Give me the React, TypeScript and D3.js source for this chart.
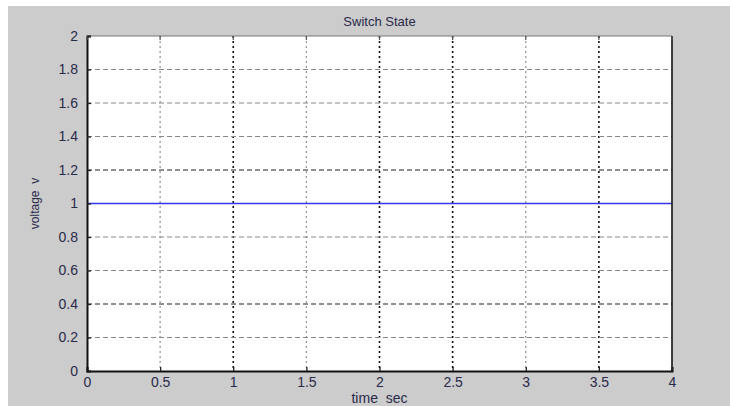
import { useEffect, useRef } from "react";
import * as d3 from "d3";

const W = 730;
const H = 406;
const FRAME = { left: 8, top: 6 };
const PLOT = { left: 87, top: 36, right: 672, bottom: 371 };

const xTicks = [0, 0.5, 1, 1.5, 2, 2.5, 3, 3.5, 4];
const yTicks = [0, 0.2, 0.4, 0.6, 0.8, 1, 1.2, 1.4, 1.6, 1.8, 2];
// darker grid lines as they appear in the scan
const darkX = [1, 2, 2.5, 3.5];
const darkY = [1.2, 0.4];

const timeSec = [0, 4];
const voltage = [1, 1];

const FONT = "'Liberation Sans', Arial, sans-serif";
const TEXT_COLOR = "#2a2a4a";

export default function App() {
  const ref = useRef<SVGSVGElement>(null);

  useEffect(() => {
    const svg = d3.select(ref.current);
    svg.selectAll("*").remove();

    const x = d3.scaleLinear().domain([0, 4]).range([PLOT.left, PLOT.right]);
    const y = d3.scaleLinear().domain([0, 2]).range([PLOT.bottom, PLOT.top]);

    // figure background
    svg
      .append("rect")
      .attr("x", FRAME.left)
      .attr("y", FRAME.top)
      .attr("width", W - FRAME.left)
      .attr("height", H - FRAME.top)
      .attr("fill", "#cccccc");

    // axes area
    svg
      .append("rect")
      .attr("x", PLOT.left)
      .attr("y", PLOT.top)
      .attr("width", PLOT.right - PLOT.left)
      .attr("height", PLOT.bottom - PLOT.top)
      .attr("fill", "#ffffff");

    // grid
    const grid = svg.append("g");
    grid
      .selectAll("line.gx")
      .data(xTicks.slice(1, -1))
      .join("line")
      .attr("x1", (d) => x(d))
      .attr("x2", (d) => x(d))
      .attr("y1", PLOT.top)
      .attr("y2", PLOT.bottom)
      .attr("stroke", (d) => (darkX.includes(d) ? "#111" : "#999"))
      .attr("stroke-width", (d) => (darkX.includes(d) ? 1.6 : 1.3))
      .attr("stroke-dasharray", "2,3");
    grid
      .selectAll("line.gy")
      .data(yTicks.slice(1, -1))
      .join("line")
      .attr("x1", PLOT.left)
      .attr("x2", PLOT.right)
      .attr("y1", (d) => y(d))
      .attr("y2", (d) => y(d))
      .attr("stroke", (d) => (darkY.includes(d) ? "#222" : "#888"))
      .attr("stroke-width", 1.2)
      .attr("stroke-dasharray", "5,3");

    // data line
    const line = d3
      .line<number>()
      .x((_, i) => x(timeSec[i]))
      .y((d) => y(d));
    svg
      .append("path")
      .datum(voltage)
      .attr("d", line)
      .attr("fill", "none")
      .attr("stroke", "#3535f0")
      .attr("stroke-width", 1.4);

    // box
    svg
      .append("line")
      .attr("x1", PLOT.left)
      .attr("x2", PLOT.right)
      .attr("y1", PLOT.top)
      .attr("y2", PLOT.top)
      .attr("stroke", "#777")
      .attr("stroke-width", 1.2);
    svg
      .append("line")
      .attr("x1", PLOT.right)
      .attr("x2", PLOT.right)
      .attr("y1", PLOT.top)
      .attr("y2", PLOT.bottom)
      .attr("stroke", "#111")
      .attr("stroke-width", 1.6);

    // axes with inward ticks
    const xAxis = svg
      .append("g")
      .attr("transform", `translate(0,${PLOT.bottom})`)
      .call(
        d3
          .axisBottom(x)
          .tickValues(xTicks)
          .tickSize(-4)
          .tickPadding(6)
          .tickFormat((d) => String(d))
      );
    const yAxis = svg
      .append("g")
      .attr("transform", `translate(${PLOT.left},0)`)
      .call(
        d3
          .axisLeft(y)
          .tickValues(yTicks)
          .tickSize(-4)
          .tickPadding(9)
          .tickFormat((d) => String(d))
      );
    [xAxis, yAxis].forEach((g) => {
      g.select(".domain").attr("stroke", "#111").attr("stroke-width", 2);
      g.selectAll(".tick line").attr("stroke", "#222").attr("stroke-width", 1.3);
      g.selectAll(".tick text")
        .attr("fill", TEXT_COLOR)
        .style("font-family", FONT)
        .style("font-size", "14px");
    });

    // top ticks
    svg
      .append("g")
      .selectAll("line")
      .data(xTicks)
      .join("line")
      .attr("x1", (d) => x(d))
      .attr("x2", (d) => x(d))
      .attr("y1", PLOT.top)
      .attr("y2", PLOT.top + 4)
      .attr("stroke", "#555")
      .attr("stroke-width", 1.2);

    // title and labels
    svg
      .append("text")
      .attr("x", (PLOT.left + PLOT.right) / 2)
      .attr("y", 26)
      .attr("text-anchor", "middle")
      .attr("fill", TEXT_COLOR)
      .style("font-family", FONT)
      .style("font-size", "13px")
      .text("Switch State");
    svg
      .append("text")
      .attr("x", (PLOT.left + PLOT.right) / 2)
      .attr("y", 403)
      .attr("text-anchor", "middle")
      .attr("fill", TEXT_COLOR)
      .style("font-family", FONT)
      .style("font-size", "14px")
      .style("white-space", "pre")
      .text("time  sec");
    svg
      .append("text")
      .attr("transform", `translate(39,${(PLOT.top + PLOT.bottom) / 2}) rotate(-90)`)
      .attr("text-anchor", "middle")
      .attr("fill", TEXT_COLOR)
      .style("font-family", FONT)
      .style("font-size", "12px")
      .style("white-space", "pre")
      .text("voltage  v");
  }, []);

  return (
    <svg
      ref={ref}
      width={W}
      height={H}
      style={{ position: "absolute", left: 0, top: 0, background: "#fff" }}
    />
  );
}
